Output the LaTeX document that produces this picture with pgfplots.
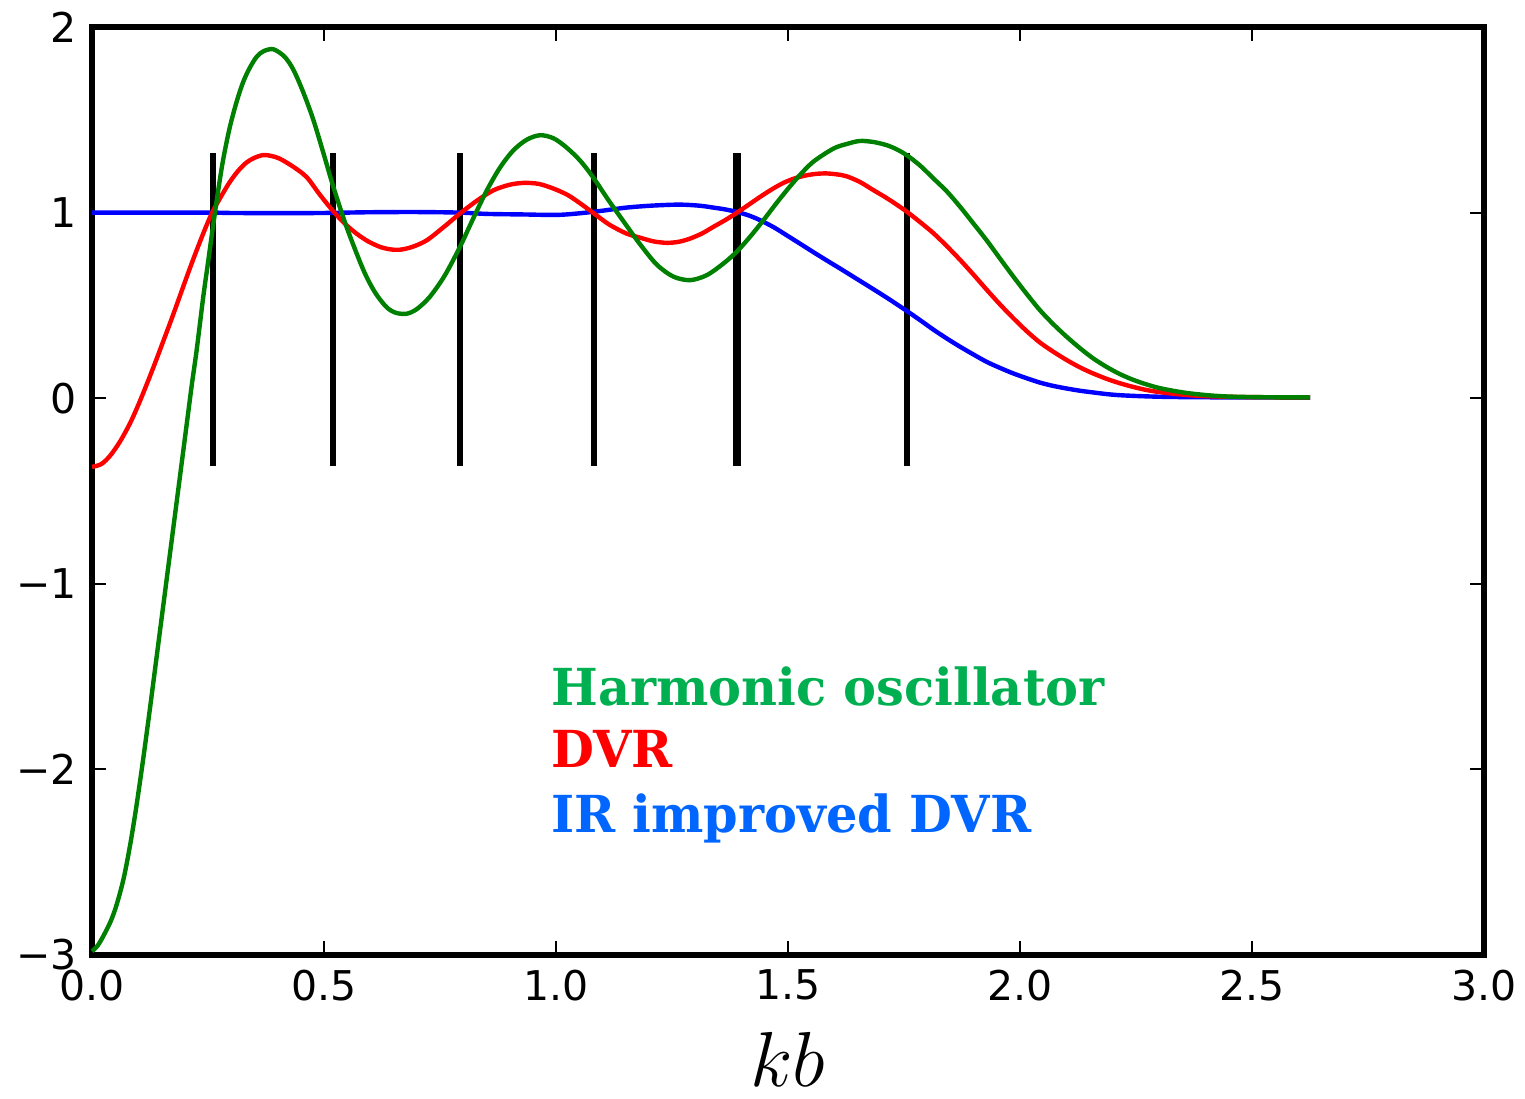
\RequirePackage{fix-cm}
\documentclass[border=0pt]{standalone}
\usepackage{pgfplots}
\pgfplotsset{compat=1.18}
\usepackage{fontspec}
\setmainfont{DejaVu Sans}
\newfontfamily\serifbold[FakeStretch=0.97]{DejaVu Serif}
\definecolor{hogreen}{RGB}{0,128,0}
\definecolor{txtgreen}{RGB}{0,176,80}
\definecolor{txtblue}{RGB}{0,102,255}
\begin{document}
\begin{tikzpicture}
\begin{axis}[
  scale only axis,
  width=696pt, height=464pt,
  xmin=0, xmax=3, ymin=-3, ymax=2,
  axis line style={line width=2.75pt},
  xtick={0,0.5,1,1.5,2,2.5,3},
  xticklabels={0.0,0.5,1.0,1.5,2.0,2.5,3.0},
  ytick={-3,-2,-1,0,1,2},
  yticklabels={−3,−2,−1,0,1,2},
  tick align=inside,
  major tick length=7pt,
  tick style={line width=1pt, black},
  ticklabel style={font=\fontsize{20.5}{24}\selectfont},
  xticklabel style={yshift=-4pt},
  yticklabel style={xshift=-4pt},
  xlabel={\fontsize{39}{42}\selectfont $kb$},
  xlabel style={inner sep=0pt, yshift=-12pt},
  clip=false,
]
% vertical DVR grid lines
\addplot[black, line width=3pt] coordinates {(0.261,-0.366) (0.261,1.32)};
\addplot[black, line width=3pt] coordinates {(0.519,-0.366) (0.519,1.32)};
\addplot[black, line width=3pt] coordinates {(0.793,-0.366) (0.793,1.32)};
\addplot[black, line width=3pt] coordinates {(1.082,-0.366) (1.082,1.32)};
\addplot[black, line width=3.8pt] coordinates {(1.390,-0.366) (1.390,1.32)};
\addplot[black, line width=3pt] coordinates {(1.756,-0.366) (1.756,1.32)};
% IR improved DVR (blue)
\addplot[blue, line width=2.2pt, smooth] coordinates {
(0.000,1.0) (0.1,1.0) (0.2,1.0) (0.261,1.0) (0.3,0.998) (0.4,0.997) (0.5,0.998)
(0.6,1.002) (0.7,1.003) (0.793,1.0) (0.85,0.993) (0.93,0.99) (1.008,0.988)
(1.08,1.004) (1.152,1.027) (1.21,1.038) (1.267,1.043) (1.31,1.037) (1.339,1.027)
(1.365,1.017) (1.389,1.004) (1.415,0.985) (1.44,0.959) (1.47,0.92) (1.497,0.878)
(1.525,0.834) (1.554,0.788) (1.583,0.743) (1.612,0.699) (1.641,0.654) (1.670,0.609)
(1.695,0.570) (1.720,0.530) (1.756,0.470) (1.785,0.42) (1.813,0.370) (1.842,0.322)
(1.871,0.277) (1.90,0.235) (1.928,0.196) (1.957,0.163) (1.986,0.133) (2.015,0.107)
(2.043,0.084) (2.072,0.066) (2.101,0.052) (2.13,0.040) (2.158,0.031) (2.187,0.022)
(2.216,0.016) (2.26,0.011) (2.316,0.007) (2.40,0.005) (2.50,0.004) (2.625,0.003)};
% DVR (red)
\addplot[red, line width=2.2pt, smooth] coordinates {
(0.000,-0.37) (0.02,-0.355) (0.039,-0.31) (0.06,-0.235) (0.082,-0.135) (0.10,-0.035)
(0.118,0.075) (0.136,0.19) (0.154,0.31) (0.172,0.43) (0.19,0.555) (0.208,0.68)
(0.226,0.80) (0.245,0.92) (0.261,1.01) (0.28,1.095) (0.297,1.165) (0.315,1.225)
(0.333,1.27) (0.35,1.295) (0.369,1.31) (0.387,1.305) (0.405,1.29) (0.435,1.245)
(0.463,1.19) (0.49,1.10) (0.519,1.01) (0.545,0.94) (0.57,0.887) (0.595,0.845)
(0.621,0.815) (0.643,0.802) (0.664,0.80) (0.69,0.815) (0.721,0.85) (0.757,0.92)
(0.793,0.995) (0.83,1.065) (0.865,1.12) (0.90,1.15) (0.93,1.16) (0.962,1.155)
(0.994,1.13) (1.025,1.095) (1.052,1.05) (1.082,0.995) (1.115,0.935) (1.152,0.887)
(1.181,0.865) (1.21,0.845) (1.239,0.837) (1.265,0.843) (1.289,0.860) (1.315,0.888)
(1.339,0.923) (1.365,0.96) (1.389,0.998) (1.415,1.042) (1.44,1.085) (1.465,1.125)
(1.49,1.160) (1.515,1.185) (1.540,1.201) (1.562,1.209) (1.583,1.211) (1.605,1.206)
(1.626,1.196) (1.655,1.165) (1.684,1.121) (1.705,1.09) (1.727,1.055) (1.756,1.005)
(1.784,0.95) (1.813,0.89) (1.842,0.82) (1.871,0.745) (1.90,0.665) (1.928,0.585)
(1.957,0.505) (1.986,0.43) (2.015,0.36) (2.043,0.30) (2.072,0.25) (2.101,0.205)
(2.13,0.165) (2.158,0.133) (2.187,0.104) (2.216,0.08) (2.245,0.06) (2.273,0.044)
(2.30,0.033) (2.33,0.024) (2.36,0.017) (2.402,0.011) (2.46,0.007) (2.54,0.005)
(2.625,0.004)};
% Harmonic oscillator (green)
\addplot[hogreen, line width=2.2pt, smooth] coordinates {
(0.000,-2.98) (0.012,-2.95) (0.024,-2.90) (0.040,-2.82) (0.053,-2.73) (0.068,-2.59)
(0.082,-2.41) (0.095,-2.21) (0.110,-1.95) (0.125,-1.67) (0.140,-1.38) (0.155,-1.09)
(0.170,-0.80) (0.185,-0.51) (0.200,-0.22) (0.215,0.07) (0.2256,0.26) (0.240,0.55)
(0.250,0.73) (0.261,0.93) (0.272,1.12) (0.283,1.29) (0.297,1.46) (0.312,1.60)
(0.326,1.705) (0.340,1.78) (0.355,1.84) (0.370,1.87) (0.391,1.88) (0.415,1.84)
(0.434,1.77) (0.455,1.65) (0.477,1.50) (0.50,1.31) (0.52,1.14) (0.549,0.92)
(0.585,0.69) (0.610,0.57) (0.635,0.49) (0.655,0.46) (0.678,0.455) (0.700,0.48)
(0.728,0.546) (0.760,0.66) (0.793,0.815) (0.82,0.96) (0.851,1.12) (0.880,1.245)
(0.908,1.335) (0.937,1.393) (0.966,1.417) (0.995,1.40) (1.023,1.35) (1.052,1.28)
(1.08,1.19) (1.115,1.06) (1.152,0.93) (1.181,0.83) (1.217,0.72) (1.253,0.655)
(1.289,0.636) (1.325,0.663) (1.361,0.726) (1.389,0.788) (1.418,0.869) (1.447,0.959)
(1.483,1.076) (1.519,1.184) (1.554,1.273) (1.598,1.345) (1.627,1.37) (1.655,1.386)
(1.685,1.38) (1.713,1.363) (1.735,1.34) (1.756,1.309) (1.784,1.255) (1.813,1.185)
(1.842,1.115) (1.871,1.031) (1.90,0.94)
(1.928,0.851) (1.957,0.752) (1.986,0.654) (2.015,0.56) (2.043,0.474) (2.072,0.398)
(2.101,0.330) (2.13,0.268) (2.158,0.214) (2.187,0.168) (2.216,0.129) (2.245,0.098)
(2.273,0.074) (2.30,0.055) (2.330,0.040) (2.36,0.028) (2.388,0.020) (2.42,0.013)
(2.460,0.008) (2.54,0.005) (2.625,0.004)};
% labels
\node[anchor=base west, inner sep=0pt, text=txtgreen, font=\serifbold\bfseries\fontsize{25.5}{30}\selectfont] at (axis cs:0.989,-1.654) {Harmonic oscillator};
\node[anchor=base west, inner sep=0pt, text=red, font=\serifbold\bfseries\fontsize{25.5}{30}\selectfont] at (axis cs:0.989,-1.99) {DVR};
\node[anchor=base west, inner sep=0pt, text=txtblue, font=\serifbold\bfseries\fontsize{25.5}{30}\selectfont] at (axis cs:0.989,-2.34) {IR improved DVR};
\end{axis}
\pgfresetboundingbox
\path (current axis.south west) ++(-46pt,-71.5pt) coordinate (bl);
\path (current axis.north east) ++(20.5pt,13.5pt) coordinate (tr);
\path[use as bounding box] (bl) rectangle (tr);
\end{tikzpicture}
\end{document}
